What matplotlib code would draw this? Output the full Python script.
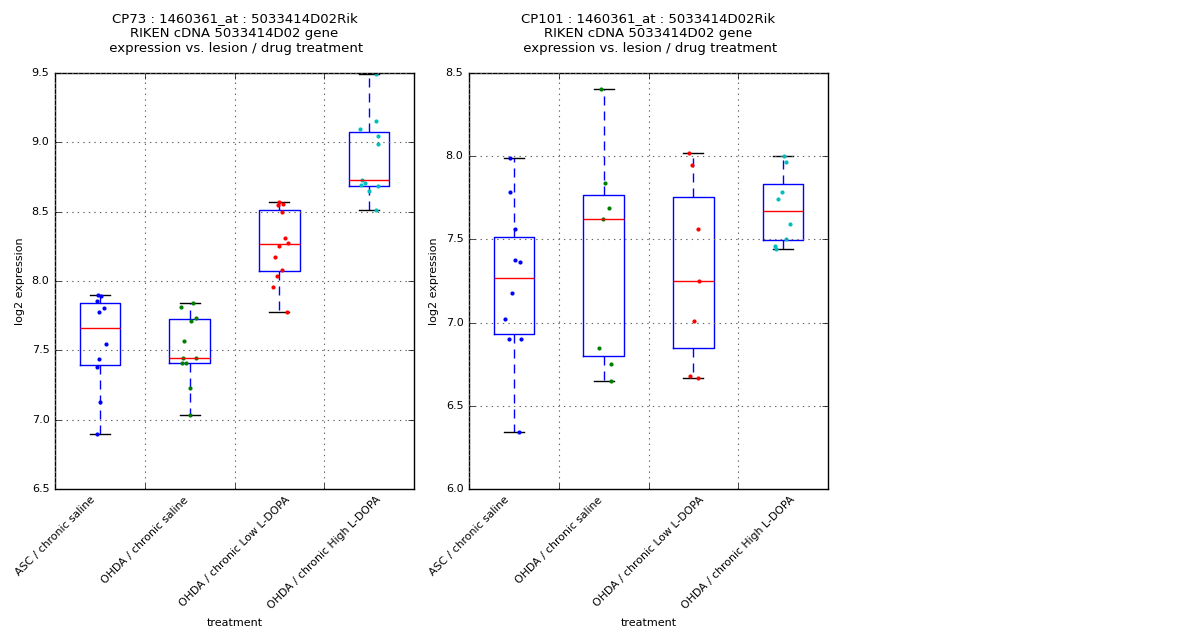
import numpy as np
import matplotlib
matplotlib.use('Agg')
import matplotlib.pyplot as plt

plt.style.use('classic')

treatments = ['ASC / chronic saline', 'OHDA / chronic saline',
              'OHDA / chronic Low L-DOPA', 'OHDA / chronic High L-DOPA']
point_colors = ['b', 'g', 'r', 'c']

# CP73 values per group
cp73_asc = [7.901, 7.894, 7.856, 7.808, 7.779, 7.548, 7.440, 7.380, 7.130, 6.899]
cp73_sal = [7.841, 7.813, 7.735, 7.712, 7.570, 7.445, 7.445, 7.411, 7.411, 7.231, 7.036]
cp73_low = [8.572, 8.550, 8.557, 8.500, 8.312, 8.276, 8.255, 8.175, 8.082, 8.038, 7.959, 7.776]
cp73_high = [9.490, 9.154, 9.096, 9.046, 8.988, 8.731, 8.709, 8.692, 8.685, 8.649, 8.514]

# jitter offsets
cp73_jit = [
    [-0.025, 0.009, -0.036, 0.046, -0.013, 0.065, -0.013, -0.036, -0.002, -0.036],
    [0.035, -0.099, 0.071, 0.012, -0.066, -0.077, 0.071, -0.088, -0.043, 0.001, 0.001],
    [-0.008, -0.019, 0.040, 0.026, 0.062, 0.096, -0.008, -0.049, 0.026, -0.030, -0.075, 0.081],
    [0.077, 0.077, -0.105, 0.096, 0.096, -0.082, -0.049, -0.094, 0.096, -0.004, 0.074],
]

# CP101 values per group
cp101_asc = [7.989, 7.785, 7.563, 7.376, 7.364, 7.178, 7.024, 6.903, 6.903, 6.343]
cp101_sal = [8.404, 7.839, 7.691, 7.624, 6.849, 6.753, 6.651]
cp101_low = [8.021, 7.949, 7.564, 7.252, 7.011, 6.681, 6.669]
cp101_high = [8.003, 7.967, 7.787, 7.745, 7.594, 7.504, 7.462, 7.444]

cp101_jit = [
    [-0.047, -0.047, 0.009, 0.009, 0.065, -0.025, -0.103, -0.058, 0.076, 0.053],
    [-0.032, 0.012, 0.057, -0.010, -0.055, 0.079, 0.079],
    [-0.052, -0.019, 0.048, 0.059, 0.003, -0.041, 0.048],
    [0.007, 0.029, -0.016, -0.060, 0.074, 0.029, -0.094, -0.082],
]

panels = [
    ('CP73', [cp73_asc, cp73_sal, cp73_low, cp73_high], cp73_jit, (6.5, 9.5)),
    ('CP101', [cp101_asc, cp101_sal, cp101_low, cp101_high], cp101_jit, (6.0, 8.5)),
]

fig = plt.figure(figsize=(12, 6.4), dpi=100, facecolor='white')
lefts = [55 / 1200.0, 469 / 1200.0]

for i, (name, groups, jit, ylim) in enumerate(panels):
    ax = fig.add_axes([lefts[i], 151 / 640.0, 359 / 1200.0, 416 / 640.0])
    ax.set_facecolor('white')
    ax.boxplot(groups, widths=0.45,
               whiskerprops=dict(color='b', linestyle=(0, (6.5, 4.3))))
    for k, vals in enumerate(groups):
        xs = k + 1 + np.array(jit[k])
        ax.plot(xs, vals, 'o', color=point_colors[k], markersize=3,
                markeredgewidth=0)
    ax.set_xlim(0.5, 4.5)
    ax.set_ylim(*ylim)
    # tick labels sit half a slot left of the boxes, as in the original
    ax.set_xticks(np.arange(len(treatments)) + 0.5)
    ax.set_xticklabels(treatments, rotation=45, ha='center', fontsize=7.8)
    ax.tick_params(axis='y', labelsize=8)
    ax.grid(True, color='0.4', linestyle=':', linewidth=0.8)
    ax.set_xlabel('treatment', fontsize=8)
    ax.set_ylabel('log2 expression', fontsize=8)
    ax.set_title(name + ' : 1460361_at : 5033414D02Rik\n'
                 'RIKEN cDNA 5033414D02 gene\n'
                 ' expression vs. lesion / drug treatment',
                 fontsize=9.5, pad=15)

fig.savefig('out.png', dpi=100, facecolor='white')
